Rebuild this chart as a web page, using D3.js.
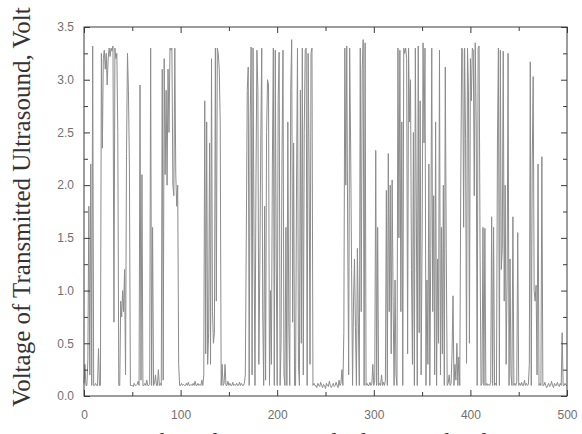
<!DOCTYPE html>
<html>
<head>
<meta charset="utf-8">
<script src="https://cdn.jsdelivr.net/npm/d3@7/dist/d3.min.js"></script>
<style>
  html, body { margin: 0; padding: 0; background: #fff; }
  svg { display: block; }
</style>
</head>
<body>
<svg id="chart" width="582" height="434"></svg>
<script>
// ---- data ----
const xTickValues = [0, 100, 200, 300, 400, 500];
const xMinorTicks = [50, 150, 250, 350, 450];
const yTickValues = [0.0, 0.5, 1.0, 1.5, 2.0, 2.5, 3.0, 3.5];
const yMinorTicks = [0.25, 0.75, 1.25, 1.75, 2.25, 2.75, 3.25];
const yLabel = "Voltage of Transmitted Ultrasound, Volt";
const xLabel = "Number of Transmitted Ultrasound Pulse";

// voltage per sample index 0..500
const voltage = [
  0.12, 0.3, 0.1, 0.1, 0.35, 1.8, 0.2, 2.2, 0.1, 3.32,
  0.1, 0.1, 0.12, 0.1, 0.1, 0.45, 0.1, 0.1, 3.25, 2.35,
  3.2, 3.28, 3.1, 3.25, 2.95, 3.2, 3.3, 3.22, 3.3, 3.27,
  3.32, 0.7, 3.3, 3.2, 3.25, 2.5, 0.1, 0.1, 0.9, 0.75,
  1.0, 0.8, 1.2, 0.2, 2.3, 3.25, 2.9, 2.2, 0.1, 0.1,
  0.1, 0.09, 0.12, 0.1, 0.1, 0.11, 0.14, 0.1, 2.95, 0.15,
  2.1, 0.1, 0.1, 0.12, 0.1, 0.15, 0.1, 0.1, 0.11, 3.3,
  0.1, 1.6, 0.1, 0.12, 0.2, 0.1, 0.1, 0.25, 0.1, 0.12,
  0.1, 3.1, 0.15, 3.2, 2.1, 2.9, 2.0, 3.1, 2.5, 3.3,
  3.28, 3.3, 2.0, 1.9, 3.3, 2.1, 1.8, 2.0, 0.3, 0.1,
  0.1, 0.12, 0.1, 0.11, 0.1, 0.1, 0.12, 0.1, 0.13, 0.1,
  0.1, 0.11, 0.1, 0.12, 0.1, 0.14, 0.1, 0.1, 0.12, 0.1,
  0.11, 0.1, 0.15, 0.1, 0.2, 2.8, 0.4, 2.6, 0.3, 0.6,
  2.4, 0.3, 3.2, 0.8, 0.5, 0.6, 3.3, 0.9, 3.3, 3.25,
  3.1, 2.6, 0.1, 0.3, 0.1, 0.12, 0.3, 0.1, 0.1, 0.14,
  0.1, 0.12, 0.1, 0.1, 0.13, 0.1, 0.11, 0.1, 0.12, 0.1,
  0.1, 0.13, 0.1, 0.12, 0.1, 0.1, 0.12, 0.2, 1.5, 2.9,
  3.12, 0.1, 2.6, 3.31, 0.2, 3.3, 1.5, 0.1, 2.0, 3.28,
  2.9, 0.3, 1.2, 2.4, 3.3, 0.8, 0.1, 1.8, 0.15, 2.5,
  3.0, 2.95, 0.1, 1.0, 0.3, 2.2, 3.3, 0.1, 3.28, 1.3,
  0.1, 2.8, 3.26, 0.1, 0.5, 2.3, 3.28, 0.2, 0.1, 1.6,
  0.1, 2.6, 0.7, 0.1, 2.9, 3.38, 0.7, 2.4, 0.1, 0.1,
  2.0, 3.3, 0.3, 0.1, 2.9, 0.5, 3.3, 0.2, 2.5, 3.28,
  3.3, 0.1, 3.25, 2.2, 0.3, 3.25, 3.3, 0.1, 0.12, 0.1,
  0.1, 0.08, 0.12, 0.1, 0.09, 0.13, 0.1, 0.08, 0.11, 0.1,
  0.07, 0.12, 0.1, 0.09, 0.14, 0.1, 0.08, 0.1, 0.12, 0.09,
  0.1, 0.13, 0.1, 0.08, 0.15, 0.1, 0.12, 0.25, 0.1, 0.6,
  3.3, 2.0, 3.32, 1.5, 0.2, 3.3, 2.4, 1.2, 0.1, 0.9,
  1.3, 0.65, 0.1, 1.4, 0.7, 0.1, 3.3, 0.8, 3.1, 3.38,
  0.1, 3.35, 0.1, 0.12, 0.1, 0.1, 0.13, 0.1, 0.12, 0.3,
  0.1, 0.15, 2.33, 0.1, 1.6, 0.1, 0.12, 0.1, 0.2, 0.1,
  0.13, 0.1, 0.15, 1.95, 0.1, 2.3, 0.8, 2.0, 0.4, 2.05,
  0.9, 0.1, 1.1, 0.2, 0.1, 3.3, 1.5, 3.28, 0.8, 2.6,
  0.1, 3.3, 3.25, 3.3, 3.2, 0.4, 3.3, 2.6, 3.0, 1.2,
  0.3, 2.5, 0.1, 3.3, 1.8, 0.1, 3.32, 0.6, 2.8, 0.2,
  1.5, 3.35, 2.4, 3.3, 0.1, 1.1, 0.3, 2.2, 0.1, 1.4,
  3.3, 0.8, 1.9, 0.2, 2.6, 0.1, 1.3, 0.5, 3.28, 0.2,
  1.6, 0.4, 2.0, 0.1, 3.12, 1.4, 0.1, 0.12, 0.2, 0.1,
  0.12, 0.4, 0.95, 0.1, 0.3, 0.15, 0.5, 0.1, 0.37, 0.1,
  2.0, 3.3, 3.28, 1.6, 3.3, 2.44, 0.31, 3.3, 2.9, 0.5,
  3.2, 2.8, 3.3, 3.28, 1.9, 3.35, 2.6, 0.1, 3.3, 3.32,
  1.4, 0.1, 0.12, 1.6, 0.1, 1.59, 0.1, 0.12, 0.1, 0.11,
  0.1, 0.13, 1.7, 0.1, 1.6, 0.1, 0.12, 0.1, 2.4, 3.3,
  0.1, 3.28, 1.2, 1.4, 3.27, 0.9, 2.0, 0.3, 1.1, 3.25,
  0.1, 1.3, 0.2, 0.1, 1.7, 0.1, 0.12, 0.1, 0.14, 1.55,
  0.1, 0.12, 0.1, 0.13, 0.1, 0.1, 0.15, 0.1, 0.12, 0.1,
  0.11, 0.3, 3.17, 0.1, 2.2, 3.03, 1.0, 0.9, 1.05, 0.2,
  2.2, 0.1, 0.12, 0.1, 2.27, 0.1, 0.1, 0.13, 0.1, 0.08,
  0.1, 0.12, 0.09, 0.1, 0.14, 0.1, 0.08, 0.12, 0.1, 0.1,
  0.13, 0.1, 0.09, 0.12, 0.1, 0.6, 0.1, 0.1, 0.12, 0.1,
  0.1
];

// ---- layout ----
const svg = d3.select("#chart");
const plot = { left: 84, right: 567, top: 27, bottom: 396 };
const axisColor = "#3a3a3a";
const labelColor = "#707070";
const serif = "'Liberation Serif', 'DejaVu Serif', 'Times New Roman', serif";

const x = d3.scaleLinear().domain([0, 500]).range([plot.left, plot.right]);
const y = d3.scaleLinear().domain([0, 3.5]).range([plot.bottom, plot.top]);

// data line
const line = d3.line()
  .x((d, i) => x(i))
  .y(d => y(d));

svg.append("path")
  .datum(voltage)
  .attr("fill", "none")
  .attr("stroke", "#8c8c8c")
  .attr("stroke-width", 1)
  .attr("d", line);

// frame
svg.append("rect")
  .attr("x", plot.left).attr("y", plot.top)
  .attr("width", plot.right - plot.left)
  .attr("height", plot.bottom - plot.top)
  .attr("fill", "none")
  .attr("stroke", axisColor)
  .attr("stroke-width", 1);

function styleAxis(g) {
  g.select(".domain").remove();
  g.selectAll(".tick line").attr("stroke", axisColor);
  g.selectAll(".tick text")
    .attr("fill", labelColor)
    .style("font-family", "Arial, 'Liberation Sans', sans-serif")
    .style("font-size", "12px");
}

// bottom axis (inward ticks, labels)
svg.append("g")
  .attr("transform", `translate(0,${plot.bottom})`)
  .call(d3.axisBottom(x).tickValues(xTickValues).tickSizeInner(-6).tickSizeOuter(0)
    .tickPadding(14).tickFormat(d3.format("d")))
  .call(styleAxis);
svg.append("g")
  .attr("transform", `translate(0,${plot.bottom})`)
  .call(d3.axisBottom(x).tickValues(xMinorTicks).tickSizeInner(-4).tickSizeOuter(0).tickFormat(""))
  .call(styleAxis);
// top axis
svg.append("g")
  .attr("transform", `translate(0,${plot.top})`)
  .call(d3.axisTop(x).tickValues(xTickValues).tickSizeInner(-6).tickSizeOuter(0).tickFormat(""))
  .call(styleAxis);
svg.append("g")
  .attr("transform", `translate(0,${plot.top})`)
  .call(d3.axisTop(x).tickValues(xMinorTicks).tickSizeInner(-4).tickSizeOuter(0).tickFormat(""))
  .call(styleAxis);

// left axis
svg.append("g")
  .attr("transform", `translate(${plot.left},0)`)
  .call(d3.axisLeft(y).tickValues(yTickValues).tickSizeInner(-6).tickSizeOuter(0)
    .tickPadding(10).tickFormat(d3.format(".1f")))
  .call(styleAxis);
svg.append("g")
  .attr("transform", `translate(${plot.left},0)`)
  .call(d3.axisLeft(y).tickValues(yMinorTicks).tickSizeInner(-4).tickSizeOuter(0).tickFormat(""))
  .call(styleAxis);
// right axis
svg.append("g")
  .attr("transform", `translate(${plot.right},0)`)
  .call(d3.axisRight(y).tickValues(yTickValues).tickSizeInner(-6).tickSizeOuter(0).tickFormat(""))
  .call(styleAxis);
svg.append("g")
  .attr("transform", `translate(${plot.right},0)`)
  .call(d3.axisRight(y).tickValues(yMinorTicks).tickSizeInner(-4).tickSizeOuter(0).tickFormat(""))
  .call(styleAxis);

// axis titles
svg.append("text")
  .attr("transform", "translate(30,207) rotate(-90)")
  .attr("text-anchor", "middle")
  .attr("fill", "#333")
  .style("font-family", serif)
  .style("font-size", "25px")
  .text(yLabel);

svg.append("text")
  .attr("x", 310).attr("y", 449)
  .attr("text-anchor", "middle")
  .attr("fill", "#333")
  .style("font-family", serif)
  .style("font-size", "24px")
  .text(xLabel);
</script>
</body>
</html>
